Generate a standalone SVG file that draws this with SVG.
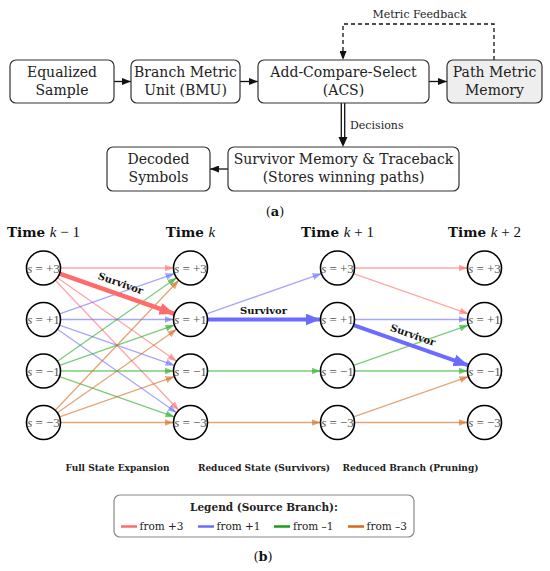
<svg xmlns="http://www.w3.org/2000/svg" width="550" height="571" viewBox="0 0 550 571">
<style>
.box{fill:#fff;stroke:#333;stroke-width:1.2}
.bt{font-family:"DejaVu Serif",serif;font-size:14px;fill:#222;text-anchor:middle}
.sm{font-family:"DejaVu Serif",serif;font-size:11px;fill:#222}
.cap{font-family:"DejaVu Serif",serif;font-size:13px;fill:#111;text-anchor:middle}
.st{fill:#fff;stroke:#000;stroke-width:1.6}
.sl{font-family:"Liberation Serif",serif;font-size:13px;fill:#555;text-anchor:middle}
.hd{font-family:"DejaVu Serif",serif;font-size:13.5px;font-weight:bold;fill:#111;text-anchor:middle}
.mt{font-family:"Liberation Serif",serif;font-size:15px;font-weight:normal}
.lb{font-family:"DejaVu Serif",serif;font-size:9px;font-weight:bold;fill:#222;text-anchor:middle}
.sv{font-family:"DejaVu Serif",serif;font-size:10px;font-weight:bold;fill:#111;text-anchor:middle}
.blk{stroke:#111;stroke-width:1.3;fill:none}
.r{stroke:#ff6b6b;stroke-opacity:0.6;stroke-width:1.3;marker-end:url(#ar)}
.b{stroke:#6b6bff;stroke-opacity:0.6;stroke-width:1.3;marker-end:url(#ab)}
.g{stroke:#22aa22;stroke-opacity:0.6;stroke-width:1.3;marker-end:url(#ag)}
.o{stroke:#d2691e;stroke-opacity:0.6;stroke-width:1.3;marker-end:url(#ao)}
.rt{stroke:#ff6b6b;stroke-width:4.5;marker-end:url(#art)}
.bt2{stroke:#6b6bff;stroke-width:4;marker-end:url(#abt)}
</style>
<defs>
<marker id="ak" markerUnits="userSpaceOnUse" markerWidth="9" markerHeight="7" refX="9" refY="3.5" orient="auto"><path d="M0,0 L9,3.5 L0,7 z" fill="#111"/></marker>
<marker id="ar" markerUnits="userSpaceOnUse" markerWidth="9" markerHeight="7" refX="9" refY="3.5" orient="auto"><path d="M0,0 L9,3.5 L0,7 z" fill="#ff6b6b" fill-opacity="0.6"/></marker>
<marker id="ab" markerUnits="userSpaceOnUse" markerWidth="9" markerHeight="7" refX="9" refY="3.5" orient="auto"><path d="M0,0 L9,3.5 L0,7 z" fill="#6b6bff" fill-opacity="0.6"/></marker>
<marker id="ag" markerUnits="userSpaceOnUse" markerWidth="9" markerHeight="7" refX="9" refY="3.5" orient="auto"><path d="M0,0 L9,3.5 L0,7 z" fill="#22aa22" fill-opacity="0.6"/></marker>
<marker id="ao" markerUnits="userSpaceOnUse" markerWidth="9" markerHeight="7" refX="9" refY="3.5" orient="auto"><path d="M0,0 L9,3.5 L0,7 z" fill="#d2691e" fill-opacity="0.6"/></marker>
<marker id="art" markerUnits="userSpaceOnUse" markerWidth="15" markerHeight="12" refX="15" refY="6" orient="auto"><path d="M0,0 L15,6 L0,12 z" fill="#ff6b6b"/></marker>
<marker id="abt" markerUnits="userSpaceOnUse" markerWidth="15" markerHeight="12" refX="15" refY="6" orient="auto"><path d="M0,0 L15,6 L0,12 z" fill="#6b6bff"/></marker>
</defs>

<!-- Part (a) connectors -->
<g id="connectors-a">
<line class="blk" x1="114" y1="81.5" x2="131" y2="81.5" marker-end="url(#ak)"/>
<line class="blk" x1="240" y1="81.5" x2="258" y2="81.5" marker-end="url(#ak)"/>
<line class="blk" x1="429" y1="81.5" x2="447" y2="81.5" marker-end="url(#ak)"/>
<line class="blk" x1="228" y1="169" x2="210" y2="169" marker-end="url(#ak)"/>
<path class="blk" d="M494,60 V24 H343 V60" stroke-dasharray="4,3" marker-end="url(#ak)"/>
<line class="blk" x1="341.3" y1="103" x2="341.3" y2="139"/>
<line class="blk" x1="344.7" y1="103" x2="344.7" y2="139"/>
<path d="M338.5,137 L347.5,137 L343,147 z" fill="#111"/>
<text class="sm" x="419.5" y="18" text-anchor="middle">Metric Feedback</text>
<text class="sm" x="350" y="129">Decisions</text>
</g>

<g id="equalized">
<rect class="box" x="10" y="60" width="104" height="43" rx="6"/>
<text class="bt" x="62" y="77">Equalized</text>
<text class="bt" x="62" y="95">Sample</text>
</g>
<g id="bmu">
<rect class="box" x="131" y="60" width="109" height="43" rx="6"/>
<text class="bt" x="185.5" y="77">Branch Metric</text>
<text class="bt" x="185.5" y="95">Unit (BMU)</text>
</g>
<g id="acs">
<rect class="box" x="258" y="60" width="171" height="43" rx="6"/>
<text class="bt" x="343.5" y="77">Add-Compare-Select</text>
<text class="bt" x="343.5" y="95">(ACS)</text>
</g>
<g id="pmm">
<rect class="box" x="447" y="60" width="95" height="43" rx="6" style="fill:#eeeeee"/>
<text class="bt" x="494.5" y="77">Path Metric</text>
<text class="bt" x="494.5" y="95">Memory</text>
</g>
<g id="survivor-memory">
<rect class="box" x="228" y="147" width="231" height="44" rx="6"/>
<text class="bt" x="343.5" y="164">Survivor Memory &amp; Traceback</text>
<text class="bt" x="343.5" y="182">(Stores winning paths)</text>
</g>
<g id="decoded">
<rect class="box" x="107" y="147" width="103" height="44" rx="6"/>
<text class="bt" x="158.5" y="164">Decoded</text>
<text class="bt" x="158.5" y="182">Symbols</text>
</g>
<text class="cap" x="275" y="216">(<tspan font-weight="bold">a</tspan>)</text>

<!-- Part (b) headings -->
<g id="headings">
<text class="hd" x="43.5" y="237">Time <tspan class="mt" font-style="italic">k</tspan><tspan class="mt"> − 1</tspan></text>
<text class="hd" x="190.5" y="237">Time <tspan class="mt" font-style="italic">k</tspan></text>
<text class="hd" x="337.5" y="237">Time <tspan class="mt" font-style="italic">k</tspan><tspan class="mt"> + 1</tspan></text>
<text class="hd" x="484.5" y="237">Time <tspan class="mt" font-style="italic">k</tspan><tspan class="mt"> + 2</tspan></text>
</g>

<!-- Trellis connectors -->
<g id="connectors-b">
<line class="r" x1="60.5" y1="268" x2="173.5" y2="268"/>
<line class="r" x1="57.42" y1="277.76" x2="176.58" y2="361.24"/>
<line class="r" x1="55.22" y1="280.32" x2="178.78" y2="410.18"/>
<line class="b" x1="59.54" y1="313.88" x2="174.46" y2="273.62"/>
<line class="b" x1="60.5" y1="319.5" x2="173.5" y2="319.5"/>
<line class="b" x1="59.54" y1="325.12" x2="174.46" y2="365.38"/>
<line class="b" x1="57.42" y1="329.26" x2="176.58" y2="412.74"/>
<line class="g" x1="57.42" y1="361.24" x2="176.58" y2="277.76"/>
<line class="g" x1="59.54" y1="365.38" x2="174.46" y2="325.12"/>
<line class="g" x1="60.5" y1="371" x2="173.5" y2="371"/>
<line class="g" x1="59.54" y1="376.62" x2="174.46" y2="416.88"/>
<line class="o" x1="55.22" y1="410.18" x2="178.78" y2="280.32"/>
<line class="o" x1="57.42" y1="412.74" x2="176.58" y2="329.26"/>
<line class="o" x1="59.54" y1="416.88" x2="174.46" y2="376.62"/>
<line class="o" x1="60.5" y1="422.5" x2="173.5" y2="422.5"/>
<line class="rt" x1="59.54" y1="273.62" x2="174.46" y2="313.88"/>

<line class="b" x1="206.54" y1="313.88" x2="321.46" y2="273.62"/>
<line class="g" x1="207.5" y1="371" x2="320.5" y2="371"/>
<line class="o" x1="207.5" y1="422.5" x2="320.5" y2="422.5"/>
<line class="bt2" x1="207.5" y1="319.5" x2="320.5" y2="319.5"/>

<line class="r" x1="354.5" y1="268" x2="467.5" y2="268"/>
<line class="r" x1="353.54" y1="273.62" x2="468.46" y2="313.88"/>
<line class="b" x1="354.5" y1="319.5" x2="467.5" y2="319.5"/>
<line class="g" x1="353.54" y1="365.38" x2="468.46" y2="325.12"/>
<line class="g" x1="354.5" y1="371" x2="467.5" y2="371"/>
<line class="o" x1="353.54" y1="416.88" x2="468.46" y2="376.62"/>
<line class="o" x1="354.5" y1="422.5" x2="467.5" y2="422.5"/>
<line class="bt2" x1="353.54" y1="325.12" x2="468.46" y2="365.38"/>

<text class="sv" transform="translate(119.5,286.6) rotate(19.3)">Survivor</text>
<text class="sv" x="263.5" y="313.5">Survivor</text>
<text class="sv" transform="translate(411.8,338.3) rotate(19.4)">Survivor</text>
</g>

<!-- Trellis states -->
<g id="s-km1-p3"><circle class="st" cx="43.5" cy="268" r="17"/><text class="sl" x="43.5" y="272.5"><tspan font-style="italic">s</tspan> = +3</text></g>
<g id="s-km1-p1"><circle class="st" cx="43.5" cy="319.5" r="17"/><text class="sl" x="43.5" y="324"><tspan font-style="italic">s</tspan> = +1</text></g>
<g id="s-km1-m1"><circle class="st" cx="43.5" cy="371" r="17"/><text class="sl" x="43.5" y="375.5"><tspan font-style="italic">s</tspan> = −1</text></g>
<g id="s-km1-m3"><circle class="st" cx="43.5" cy="422.5" r="17"/><text class="sl" x="43.5" y="427"><tspan font-style="italic">s</tspan> = −3</text></g>

<g id="s-k-p3"><circle class="st" cx="190.5" cy="268" r="17"/><text class="sl" x="190.5" y="272.5"><tspan font-style="italic">s</tspan> = +3</text></g>
<g id="s-k-p1"><circle class="st" cx="190.5" cy="319.5" r="17"/><text class="sl" x="190.5" y="324"><tspan font-style="italic">s</tspan> = +1</text></g>
<g id="s-k-m1"><circle class="st" cx="190.5" cy="371" r="17"/><text class="sl" x="190.5" y="375.5"><tspan font-style="italic">s</tspan> = −1</text></g>
<g id="s-k-m3"><circle class="st" cx="190.5" cy="422.5" r="17"/><text class="sl" x="190.5" y="427"><tspan font-style="italic">s</tspan> = −3</text></g>

<g id="s-kp1-p3"><circle class="st" cx="337.5" cy="268" r="17"/><text class="sl" x="337.5" y="272.5"><tspan font-style="italic">s</tspan> = +3</text></g>
<g id="s-kp1-p1"><circle class="st" cx="337.5" cy="319.5" r="17"/><text class="sl" x="337.5" y="324"><tspan font-style="italic">s</tspan> = +1</text></g>
<g id="s-kp1-m1"><circle class="st" cx="337.5" cy="371" r="17"/><text class="sl" x="337.5" y="375.5"><tspan font-style="italic">s</tspan> = −1</text></g>
<g id="s-kp1-m3"><circle class="st" cx="337.5" cy="422.5" r="17"/><text class="sl" x="337.5" y="427"><tspan font-style="italic">s</tspan> = −3</text></g>

<g id="s-kp2-p3"><circle class="st" cx="484.5" cy="268" r="17"/><text class="sl" x="484.5" y="272.5"><tspan font-style="italic">s</tspan> = +3</text></g>
<g id="s-kp2-p1"><circle class="st" cx="484.5" cy="319.5" r="17"/><text class="sl" x="484.5" y="324"><tspan font-style="italic">s</tspan> = +1</text></g>
<g id="s-kp2-m1"><circle class="st" cx="484.5" cy="371" r="17"/><text class="sl" x="484.5" y="375.5"><tspan font-style="italic">s</tspan> = −1</text></g>
<g id="s-kp2-m3"><circle class="st" cx="484.5" cy="422.5" r="17"/><text class="sl" x="484.5" y="427"><tspan font-style="italic">s</tspan> = −3</text></g>

<g id="section-labels">
<text class="lb" x="117.5" y="471">Full State Expansion</text>
<text class="lb" x="264" y="471">Reduced State (Survivors)</text>
<text class="lb" x="410.5" y="471">Reduced Branch (Pruning)</text>
</g>

<g id="legend">
<rect x="114" y="495" width="300" height="42" rx="6" fill="#fff" stroke="#888" stroke-width="1.2"/>
<text class="lb" x="264" y="510.5" style="font-size:10.5px">Legend (Source Branch):</text>
<line x1="121" y1="526.5" x2="137" y2="526.5" stroke="#ff6b6b" stroke-width="2.5"/>
<text class="sm" x="139.5" y="530" style="font-size:10.5px">from +3</text>
<line x1="198" y1="526.5" x2="214" y2="526.5" stroke="#6b6bff" stroke-width="2.5"/>
<text class="sm" x="216.5" y="530" style="font-size:10.5px">from +1</text>
<line x1="274" y1="526.5" x2="290" y2="526.5" stroke="#1a9e1a" stroke-width="2.5"/>
<text class="sm" x="293" y="530" style="font-size:10.5px">from –1</text>
<line x1="348" y1="526.5" x2="364" y2="526.5" stroke="#d2691e" stroke-width="2.5"/>
<text class="sm" x="366.5" y="530" style="font-size:10.5px">from –3</text>
</g>
<text class="cap" x="263" y="561">(<tspan font-weight="bold">b</tspan>)</text>
</svg>
